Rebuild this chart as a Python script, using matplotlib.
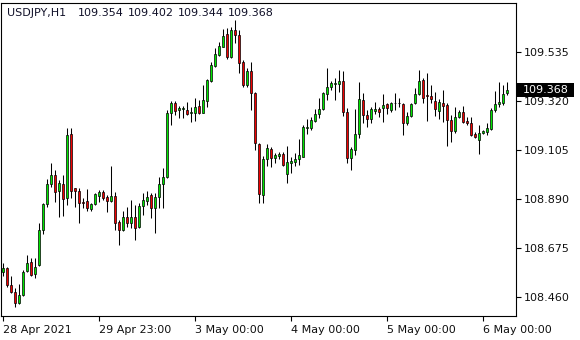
import matplotlib
matplotlib.use("Agg")
import matplotlib.pyplot as plt
from matplotlib.patches import Rectangle

# USDJPY H1 candles, oldest first
opens = [
    108.570, 108.588, 108.513, 108.484, 108.435, 108.470, 108.576, 108.613, 108.562, 108.601,
    108.754, 108.868, 108.956, 108.994, 108.925, 108.956, 108.893, 109.175, 108.937, 108.926,
    108.876, 108.881, 108.845, 108.867, 108.904, 108.919, 108.900, 108.883, 108.904, 108.788,
    108.754, 108.810, 108.784, 108.812, 108.769, 108.861, 108.883, 108.908, 108.849, 108.897,
    108.954, 108.985, 109.265, 109.312, 109.280, 109.283, 109.280, 109.268, 109.268, 109.297,
    109.268, 109.320, 109.408, 109.472, 109.521, 109.557, 109.611, 109.510, 109.630, 109.608,
    109.490, 109.389, 109.450, 109.356, 109.131, 108.908, 109.064, 109.108, 109.071, 109.080,
    109.086, 109.000, 109.049, 109.053, 109.064, 109.075, 109.202, 109.202, 109.233, 109.261,
    109.283, 109.351, 109.379, 109.392, 109.392, 109.408, 109.272, 109.068, 109.105, 109.175,
    109.323, 109.258, 109.240, 109.277, 109.283, 109.287, 109.305, 109.280, 109.309, 109.312,
    109.306, 109.222, 109.253, 109.309, 109.350, 109.411, 109.345, 109.341, 109.319, 109.277,
    109.312, 109.302, 109.236, 109.189, 109.248, 109.272, 109.232, 109.224, 109.175, 109.148,
    109.180, 109.185, 109.195, 109.280, 109.305, 109.312, 109.354,
]
highs = [
    108.610, 108.594, 108.553, 108.500, 108.518, 108.579, 108.645, 108.632, 108.632, 108.785,
    108.874, 108.978, 109.049, 109.017, 108.973, 108.995, 109.200, 109.200, 108.937, 108.937,
    108.893, 108.932, 108.874, 108.915, 108.929, 108.929, 108.908, 109.034, 108.922, 108.798,
    108.839, 108.854, 108.886, 108.864, 108.871, 108.915, 108.926, 108.915, 108.915, 108.988,
    109.024, 109.280, 109.320, 109.320, 109.297, 109.297, 109.316, 109.294, 109.331, 109.323,
    109.389, 109.414, 109.491, 109.550, 109.579, 109.633, 109.637, 109.645, 109.674, 109.630,
    109.499, 109.462, 109.491, 109.360, 109.134, 109.078, 109.131, 109.116, 109.093, 109.097,
    109.097, 109.122, 109.075, 109.090, 109.151, 109.214, 109.239, 109.248, 109.283, 109.331,
    109.360, 109.462, 109.408, 109.419, 109.455, 109.452, 109.287, 109.119, 109.283, 109.404,
    109.353, 109.280, 109.294, 109.316, 109.294, 109.350, 109.309, 109.316, 109.353, 109.331,
    109.312, 109.272, 109.312, 109.375, 109.455, 109.419, 109.440, 109.389, 109.360, 109.327,
    109.367, 109.309, 109.258, 109.294, 109.280, 109.297, 109.250, 109.250, 109.185, 109.214,
    109.192, 109.224, 109.287, 109.364, 109.404, 109.389, 109.402,
]
lows = [
    108.553, 108.506, 108.480, 108.417, 108.430, 108.465, 108.572, 108.553, 108.544, 108.598,
    108.737, 108.855, 108.944, 108.878, 108.812, 108.816, 108.864, 108.893, 108.854, 108.784,
    108.849, 108.839, 108.837, 108.864, 108.878, 108.886, 108.834, 108.878, 108.754, 108.689,
    108.751, 108.769, 108.762, 108.710, 108.762, 108.820, 108.864, 108.805, 108.742, 108.849,
    108.849, 108.981, 109.214, 109.258, 109.243, 109.245, 109.258, 109.228, 109.233, 109.262,
    109.265, 109.294, 109.404, 109.469, 109.516, 109.554, 109.502, 109.506, 109.574, 109.440,
    109.382, 109.382, 109.280, 109.105, 108.871, 108.871, 109.034, 109.031, 109.046, 109.064,
    109.034, 108.959, 109.005, 109.034, 109.039, 109.073, 109.175, 109.192, 109.228, 109.243,
    109.280, 109.323, 109.367, 109.323, 109.360, 109.253, 109.046, 109.017, 109.083, 109.156,
    109.222, 109.207, 109.222, 109.261, 109.250, 109.228, 109.262, 109.272, 109.280, 109.294,
    109.170, 109.214, 109.250, 109.306, 109.345, 109.309, 109.233, 109.309, 109.253, 109.239,
    109.228, 109.122, 109.141, 109.178, 109.243, 109.222, 109.214, 109.166, 109.156, 109.087,
    109.175, 109.170, 109.192, 109.272, 109.294, 109.302, 109.344,
]
closes = [
    108.588, 108.513, 108.484, 108.435, 108.470, 108.572, 108.608, 108.557, 108.594, 108.754,
    108.867, 108.956, 108.995, 108.919, 108.959, 108.889, 109.170, 108.926, 108.926, 108.871,
    108.871, 108.849, 108.867, 108.911, 108.919, 108.896, 108.883, 108.904, 108.784, 108.754,
    108.810, 108.784, 108.812, 108.764, 108.861, 108.886, 108.897, 108.849, 108.897, 108.954,
    108.985, 109.265, 109.312, 109.277, 109.288, 109.287, 109.261, 109.270, 109.292, 109.265,
    109.323, 109.411, 109.477, 109.525, 109.560, 109.604, 109.510, 109.630, 109.608, 109.484,
    109.389, 109.450, 109.353, 109.134, 108.910, 109.064, 109.112, 109.071, 109.083, 109.086,
    109.038, 109.051, 109.058, 109.065, 109.081, 109.207, 109.205, 109.236, 109.262, 109.284,
    109.353, 109.379, 109.399, 109.397, 109.407, 109.270, 109.068, 109.108, 109.175, 109.327,
    109.258, 109.240, 109.283, 109.283, 109.272, 109.302, 109.287, 109.312, 109.312, 109.312,
    109.222, 109.253, 109.306, 109.350, 109.407, 109.331, 109.341, 109.327, 109.283, 109.316,
    109.297, 109.236, 109.189, 109.248, 109.272, 109.228, 109.224, 109.170, 109.160, 109.180,
    109.189, 109.200, 109.280, 109.306, 109.316, 109.350, 109.368,
]

tick_bars = [0, 24, 48, 72, 96, 120]
tick_labels = ["28 Apr 2021", "29 Apr 23:00", "3 May 00:00",
               "4 May 00:00", "5 May 00:00", "6 May 00:00"]
price_ticks = [108.460, 108.675, 108.890, 109.105, 109.320, 109.535]

symbol = "USDJPY,H1"

BULL = "#00e600"
BEAR = "#f00000"
W, H = 580, 340

plt.rcParams["font.family"] = "DejaVu Sans"
fig = plt.figure(figsize=(W / 100, H / 100), dpi=100)
ax = fig.add_axes([1 / W, (H - 316) / H, 515 / W, 313 / H])

body_w = 0.62
for i, (o, h, l, c) in enumerate(zip(opens, highs, lows, closes)):
    ax.vlines(i, l, h, color="black", linewidth=0.75, zorder=2)
    if abs(c - o) < 1e-6:
        ax.hlines(o, i - body_w / 2, i + body_w / 2, color="black", linewidth=0.75, zorder=3)
        continue
    col = BULL if c > o else BEAR
    ax.add_patch(Rectangle((i - body_w / 2, min(o, c)), body_w, abs(c - o),
                           facecolor=col, edgecolor="black", linewidth=0.5, zorder=3))

ax.set_xlim(-0.5, 128.25)
ax.set_ylim(108.3776, 109.7483)

ax.yaxis.tick_right()
ax.set_yticks(price_ticks)
ax.set_yticklabels([f"{p:.3f}" for p in price_ticks])
ax.set_xticks(tick_bars)
ax.set_xticklabels(tick_labels, ha="left")
ax.tick_params(axis="both", length=3.5, width=0.8, color="black",
               labelsize=8, labelcolor="#101010", direction="out", pad=2)
ax.tick_params(axis="x", pad=3)
for s in ax.spines.values():
    s.set_linewidth(0.8)
    s.set_color("black")

# header: symbol and OHLC of last bar
hdr_y = 1 - 12.5 / H
fig.text(7 / W, hdr_y, symbol, fontsize=8, color="#101028", va="center")
for k, v in enumerate([opens[-1], highs[-1], lows[-1], closes[-1]]):
    fig.text((78 + 50 * k) / W, hdr_y, f"{v:.3f}", fontsize=8, color="#101028", va="center")

# last price marker on the price scale
fig.canvas.draw()
y_pix = ax.transData.transform((0, closes[-1]))[1]
fig.add_artist(Rectangle((517 / W, (y_pix - 7) / H), 57 / W, 14 / H,
                         transform=fig.transFigure, facecolor="black",
                         edgecolor="none", zorder=5))
fig.text(523 / W, y_pix / H, f"{closes[-1]:.3f}", fontsize=8, color="white",
         va="center", zorder=6)

fig.savefig("out.png", dpi=100, facecolor="white")
